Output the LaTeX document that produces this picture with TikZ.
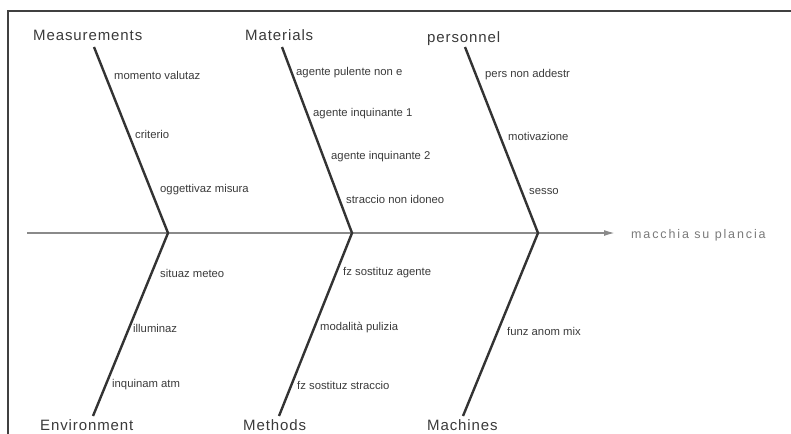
\documentclass[tikz,border=0pt]{standalone}
\usepackage{fontspec}
\setmainfont{Liberation Sans}
\usetikzlibrary{arrows.meta}
\definecolor{bonec}{HTML}{333333}
\definecolor{spinec}{HTML}{8A8A8A}
\definecolor{txtc}{HTML}{3A3A3A}
\definecolor{effc}{HTML}{7A7A7A}
\tikzset{
  bone/.style={draw=bonec, line width=2.4pt},
  spine/.style={draw=spinec, line width=1.6pt, -{Latex[length=11pt,width=6pt]}},
  cat/.style={anchor=base west, inner sep=0pt, font=\addfontfeatures{LetterSpace=6}\fontsize{15}{15}\selectfont, text=txtc},
  cause/.style={anchor=west, inner sep=0pt, font=\fontsize{11.3}{11.3}\selectfont, text=txtc},
  effect/.style={anchor=west, inner sep=0pt, font=\addfontfeatures{LetterSpace=15}\fontsize{12.5}{12.5}\selectfont, text=effc},
  frame/.style={draw=black!75, line width=1.2pt}
}
\begin{document}
\begin{tikzpicture}[x=1pt,y=-1pt]
\useasboundingbox (0,0) rectangle (791,433);
% frame
\coordinate (f1) at (8,440);
\coordinate (f2) at (8,11);
\coordinate (f3) at (795,11);
\draw[frame] (f1) -- (f2) -- (f3);
% spine
\coordinate (s0) at (27,233);
\coordinate (j1) at (168,233);
\coordinate (j2) at (352,233);
\coordinate (j3) at (538,233);
\coordinate (s1) at (615,233);
\node[effect] (eff) at (631,235) {macchia su plancia};
\draw[spine] (s0) -- (s1);
% bone ends
\coordinate (t1) at (94,47);
\coordinate (t2) at (282,47);
\coordinate (t3) at (465,47);
\coordinate (b1) at (93,416);
\coordinate (b2) at (279,416);
\coordinate (b3) at (463,416);
\draw[bone] (t1) -- (j1) -- (b1);
\draw[bone] (t2) -- (j2) -- (b2);
\draw[bone] (t3) -- (j3) -- (b3);
% categories
\node[cat] (meas) at (33,41) {Measurements};
\node[cat] (mat) at (245,41) {Materials};
\node[cat] (pers) at (427,43) {personnel};
\node[cat] (env) at (40,430) {Environment};
\node[cat] (meth) at (243,430) {Methods};
\node[cat] (mach) at (427,430) {Machines};
% causes
\node[cause] (c1) at (114,75) {momento valutaz};
\node[cause] (c2) at (135,134) {criterio};
\node[cause] (c3) at (160,190) {oggettivaz misura};
\node[cause] (c4) at (296,73) {agente pulente non e};
\node[cause] (c5) at (313,114) {agente inquinante 1};
\node[cause] (c6) at (331,157) {agente inquinante 2};
\node[cause] (c7) at (346,199) {straccio non idoneo};
\node[cause] (c8) at (485,75) {pers non addestr};
\node[cause] (c9) at (508,136) {motivazione};
\node[cause] (c10) at (529,192) {sesso};
\node[cause] (c11) at (160,273) {situaz meteo};
\node[cause] (c12) at (133,328) {illuminaz};
\node[cause] (c13) at (112,385) {inquinam atm};
\node[cause] (c14) at (343,273) {fz sostituz agente};
\node[cause] (c15) at (320,328) {modalità pulizia};
\node[cause] (c16) at (297,385) {fz sostituz straccio};
\node[cause] (c17) at (507,331) {funz anom mix};
\end{tikzpicture}
\end{document}
